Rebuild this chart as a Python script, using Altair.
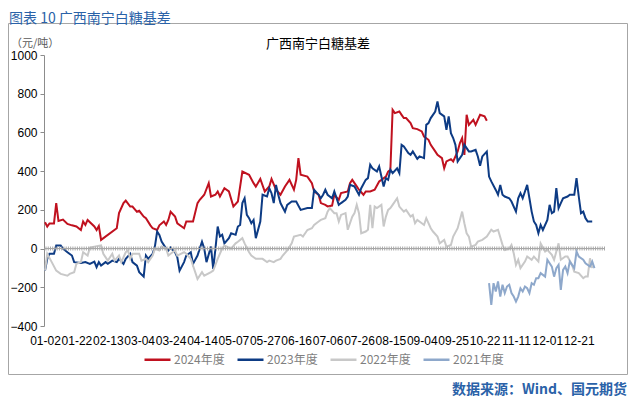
import altair as alt
import pandas as pd

# ---- data (trading-day index, basis in 元/吨) ----
x_labels = ["01-02", "01-22", "02-13", "03-04", "03-24", "04-14", "05-07", "05-27", "06-16",
            "07-06", "07-26", "08-15", "09-04", "09-25", "10-22", "11-11", "12-01", "12-21"]
label_step = 14

years = ["2024年度", "2023年度", "2022年度", "2021年度"]
colors = ["#C0111F", "#0D3B84", "#C8C8C8", "#8EA8CB"]

s2024 = [(0,136),(1,114),(2,130),(4,130),(5,235),(6,143),(8,150),(10,127),(12,120),(14,114),(16,96),
         (17,140),(18,122),(19,148),(22,114),(23,96),(24,117),(25,45),(32,105),(33,183),(35,235),(36,248),
         (38,217),(39,217),(41,190),(42,195),(44,165),(45,157),(47,120),(48,105),(50,96),(51,120),(53,140),
         (54,122),(55,148),(56,190),(58,165),(59,130),(62,105),(63,140),(66,140),(68,235),(69,252),(71,278),
         (73,338),(74,269),(76,278),(77,295),(78,269),(80,312),(82,295),(84,217),(86,243),(88,398),(91,381),
         (93,338),(94,320),(96,360),(98,295),(100,321),(101,360),(103,304),(105,278),(107,321),(109,355),
         (111,304),(112,355),(113,467),(114,381),(117,372),(119,338),(120,295),(122,278),(123,235),(125,226),
         (126,218),(128,222),(129,278),(131,252),(132,287),(135,295),(136,338),(137,355),(139,321),(140,304),
         (142,278),(143,295),(145,295),(147,304),(149,347),(150,355),(152,372),(153,398),(154,407),(155,717),
         (156,700),(158,708),(159,691),(160,674),(161,674),(163,648),(164,622),(166,617),(168,605),(169,579),
         (171,562),(172,536),(174,502),(175,484),(177,467),(178,415),(179,450),(181,462),(182,450),(184,502),
         (185,545),(186,571),(187,484),(188,691),(189,639),(191,665),(192,639),(194,691),(196,683),(197,660)]

s2023 = [(0,-114),(1,-53),(2,-27),(4,-27),(5,16),(7,16),(8,0),(10,-19),(12,-36),(13,-70),(16,-74),(18,-70),
         (20,-79),(22,-67),(23,-96),(24,-70),(25,-88),(27,-70),(28,-79),(30,-62),(32,-70),(33,-53),(35,-79),
         (36,-53),(38,-27),(39,-70),(41,-88),(42,-122),(44,-145),(45,-36),(46,-53),(48,-27),(49,10),(50,88),
         (51,71),(52,36),(54,0),(55,-10),(56,5),(58,-19),(59,-45),(60,-114),(62,-70),(63,-36),(65,-19),(66,-79),
         (68,-36),(69,0),(70,35),(71,0),(72,-70),(74,10),(75,-105),(76,0),(77,114),(78,62),(79,71),(80,27),
         (82,54),(83,79),(85,71),(86,114),(87,122),(88,235),(89,260),(90,174),(91,157),(92,131),(93,148),
         (94,54),(96,140),(97,278),(99,269),(100,312),(101,286),(102,235),(103,329),(104,278),(105,235),
         (107,191),(108,226),(110,243),(112,243),(114,200),(117,209),(119,209),(120,304),(122,278),(123,260),
         (124,278),(125,304),(126,278),(128,260),(129,295),(131,226),(132,235),(134,252),(135,269),(136,329),
         (138,321),(140,278),(141,312),(143,355),(144,364),(145,433),(146,415),(148,398),(149,424),(150,372),
         (151,321),(152,364),(153,355),(154,407),(155,390),(157,415),(158,390),(159,536),(160,528),(162,493),
         (163,484),(164,502),(166,464),(167,476),(169,467),(170,639),(171,648),(172,674),(174,708),(175,760),
         (176,700),(178,683),(179,614),(180,683),(181,596),(182,571),(183,536),(184,450),(186,484),(187,536),
         (189,502),(190,502),(192,510),(193,476),(194,428),(195,476),(197,501),(198,372),(199,347),(201,303),
         (202,278),(203,329),(204,278),(205,269),(207,260),(208,243),(210,191),(211,260),(212,286),(213,260),
         (215,329),(216,260),(217,191),(218,140),(219,122),(220,79),(221,122),(222,96),(224,148),(225,226),
         (226,183),(227,191),(228,312),(229,209),(230,235),(231,260),(233,269),(234,278),(236,278),(237,364),
         (238,269),(239,183),(240,191),(241,157),(242,140),(244,140)]

s2022 = [(0,-114),(1,-27),(3,-70),(5,-114),(7,-131),(10,-140),(11,-131),(13,-122),(14,-79),(16,-70),(17,-19),
         (19,-36),(20,5),(22,10),(25,16),(26,-27),(28,-62),(30,-27),(31,-62),(33,-36),(34,-70),(36,-19),(37,-10),
         (38,-53),(39,-27),(42,-27),(43,-62),(45,-53),(46,-70),(48,-36),(49,0),(51,-10),(52,10),(54,0),(55,-36),
         (56,-27),(58,-10),(59,-36),(62,-19),(63,-27),(65,-53),(66,-88),(68,-157),(70,-122),(71,-140),(74,-122),
         (75,-114),(77,-53),(79,0),(80,16),(82,5),(83,0),(85,27),(86,35),(88,54),(89,27),(91,-19),(92,-36),
         (94,-53),(97,-53),(99,-70),(100,-62),(102,-70),(103,-62),(105,-53),(106,-36),(108,-10),(110,27),
         (111,62),(114,71),(115,62),(117,96),(119,105),(120,122),(122,140),(123,148),(125,157),(126,191),
         (127,209),(129,183),(130,183),(131,140),(132,174),(134,183),(135,97),(137,165),(138,183),(139,226),
         (140,183),(141,79),(143,88),(144,97),(145,226),(146,105),(147,217),(148,209),(150,226),(151,114),
         (152,165),(153,200),(154,209),(155,226),(157,260),(158,217),(160,191),(161,200),(163,165),(164,174),
         (165,131),(166,148),(168,131),(169,122),(170,157),(172,105),(173,88),(175,62),(176,27),(178,45),
         (179,10),(181,19),(182,62),(184,105),(185,148),(186,191),(187,131),(188,79),(189,62),(190,10),
         (192,19),(193,36),(195,45),(197,62),(199,97),(200,88),(202,97),(204,19),(205,-7),(207,0),(208,19),
         (209,-24),(210,-84),(211,-58),(212,-101),(214,-67),(215,-41),(217,-58),(218,-41),(220,-67),(221,27),
         (223,-15),(224,-7),(226,-32),(227,-58),(229,27),(230,-58),(232,-41),(233,-41),(235,-84),(236,-119),
         (238,-127),(240,-153),(241,-144),(242,-144),(243,-50),(244,-101)]

s2021 = [(198,-179),(199,-291),(200,-179),(201,-222),(202,-170),(203,-248),(204,-187),(205,-230),(206,-196),
         (207,-187),(208,-230),(209,-248),(210,-274),(211,-248),(212,-205),(213,-222),(214,-196),(215,-205),
         (216,-230),(217,-179),(218,-187),(219,-153),(220,-153),(221,-127),(223,-145),(224,-58),(226,-93),
         (227,-145),(228,-101),(229,-84),(230,-213),(231,-110),(232,-93),(233,-127),(234,-67),(235,-84),
         (236,-101),(237,-15),(238,-41),(240,-58),(241,-76),(243,-93),(244,-67),(245,-101)]

series = {"2024年度": s2024, "2023年度": s2023, "2022年度": s2022, "2021年度": s2021}
rows = []
for name, pts in series.items():
    for d, v in pts:
        rows.append({"day": d, "basis": v, "year": name})
df = pd.DataFrame(rows)
zero_df = pd.DataFrame({"basis": [0]})

W, H = 561, 271
CJK = "Noto Sans CJK SC"
NUM = "Liberation Sans"

label_expr = "[" + ",".join("'%s'" % l for l in x_labels) + "][round(datum.value/%d)]" % label_step

x_enc = alt.X("day:Q",
              scale=alt.Scale(domain=[-0.45, 249.7], nice=False, zero=False),
              axis=alt.Axis(values=[i * label_step for i in range(len(x_labels))], labelExpr=label_expr,
                            domain=False, ticks=False, grid=False, labelFontSize=12, labelColor="#000000",
                            labelPadding=9, labelFont=NUM, labelOverlap=False, labelFlush=False, title=None))
y_enc = alt.Y("basis:Q",
              scale=alt.Scale(domain=[-400, 1000], nice=False),
              axis=alt.Axis(values=list(range(-400, 1001, 200)), format="d", grid=False, domainColor="#8C8C8C",
                            tickColor="#8C8C8C", tickSize=4, labelFontSize=12, labelColor="#000000",
                            labelPadding=3, labelFont=NUM, labelOverlap=False, labelFlush=False,
                            labelBound=False, title=None))
color_enc = alt.Color("year:N",
                      scale=alt.Scale(domain=years, range=colors),
                      legend=alt.Legend(orient="none", legendX=99, legendY=290, direction="horizontal",
                                        title=None, symbolType="stroke", symbolSize=676, symbolStrokeWidth=2.5,
                                        labelFontSize=12, labelColor="#7F7F7F", labelFont=CJK,
                                        labelOffset=2, columnPadding=7, gridAlign="all"))

line_layers = []
for name in years:
    line_layers.append(
        alt.Chart(df).transform_filter(alt.datum.year == name)
        .mark_line(strokeWidth=2)
        .encode(x=x_enc, y=y_enc, color=color_enc)
    )

zero_line = alt.Chart(zero_df).mark_rule(color="#A0A0A0", strokeWidth=1).encode(y=y_enc)
zero_ticks = alt.Chart(zero_df).mark_rule(color="#A8A8A8", strokeWidth=4, strokeDash=[1, 1.243]).encode(y=y_enc)

dummy = pd.DataFrame({"a": [0]})
border = alt.Chart(dummy).mark_rect(fillOpacity=0, stroke="#A6A6A6", strokeWidth=1).encode(
    x=alt.value(-35.5), x2=alt.value(583.5), y=alt.value(-31.5), y2=alt.value(319.5))

title_top = alt.Chart(dummy).mark_text(text="图表 10 广西南宁白糖基差", align="left", baseline="middle",
                                       font=CJK, fontSize=14, color="#2A62A8").encode(
    x=alt.value(-35), y=alt.value(-36.5))
unit_txt = alt.Chart(dummy).mark_text(text="（元/吨）", align="left", baseline="middle",
                                      font=CJK, fontSize=11, color="#595959").encode(
    x=alt.value(-33), y=alt.value(-11))
chart_title = alt.Chart(dummy).mark_text(text="广西南宁白糖基差", align="center", baseline="middle",
                                         font=CJK, fontSize=13, color="#000000").encode(
    x=alt.value(274), y=alt.value(-11))
footer = alt.Chart(dummy).mark_text(text="数据来源：Wind、国元期货", align="right", baseline="middle",
                                    font=CJK, fontSize=14, fontWeight="bold", color="#2A62A8").encode(
    x=alt.value(583), y=alt.value(335))

chart = alt.layer(*line_layers, zero_line, zero_ticks, border, title_top, unit_txt, chart_title,
                  footer).properties(
    width=W, height=H,
    autosize=alt.AutoSizeParams(type="none"),
    padding={"left": 36, "top": 47, "right": 23, "bottom": 73},
    background="white",
).configure_view(stroke=None)

chart.save("out.html", embed_options={"renderer": "svg", "actions": False})
